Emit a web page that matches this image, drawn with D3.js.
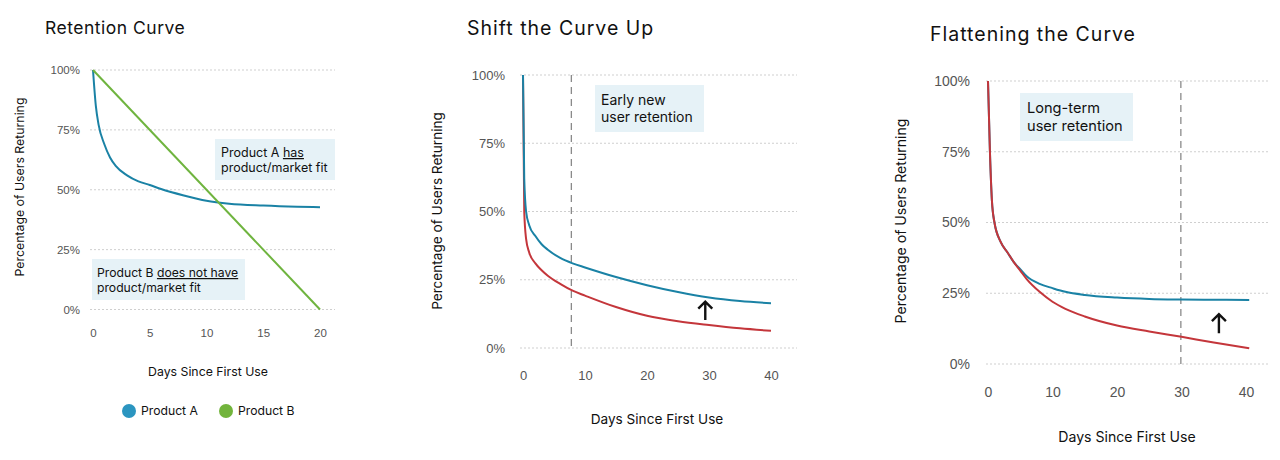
<!DOCTYPE html>
<html>
<head>
<meta charset="utf-8">
<script src="https://cdn.jsdelivr.net/npm/d3@7"></script>
<style>
  body { margin: 0; background: #fff; }
  svg { font-family: Inter, Lato, sans-serif; font-variant-ligatures: none; }
  .tick text { fill: #555; }
</style>
</head>
<body>
<svg id="chart" width="1280" height="460"></svg>
<script>
// ---- data ----
var yTicks = [0, 25, 50, 75, 100];

// panel 1: retention curve
var p1Ticks = [0, 5, 10, 15, 20];
var p1DaysA = [0, 0.25, 0.5, 1, 1.5, 2, 3, 4, 5, 6, 8, 10, 12, 15, 18, 20];
var p1ProductA = [100, 85, 77, 69, 63.5, 60, 56, 53.5, 52, 50.3, 47.6, 45.4, 44.2, 43.4, 42.9, 42.7];
var p1DaysB = [0, 20];
var p1ProductB = [100, 0];

// panel 2: shift the curve up
var p2Ticks = [0, 10, 20, 30, 40];
var p2Days = [0, 0.2, 0.5, 1, 2, 3, 4, 6, 8, 10, 15, 20, 25, 30, 35, 40];
var p2Upper = [100, 62, 50, 45, 41, 38, 36, 33, 31, 29.5, 26, 23, 20.5, 18.5, 17.2, 16.4];
var p2Lower = [100, 50, 40, 35, 31, 28.5, 26.5, 23.5, 21, 19.2, 15, 11.8, 9.8, 8.4, 7.2, 6.3];

// panel 3: flattening the curve
var p3Days = [0, 0.3, 0.6, 1, 2, 3, 4, 5, 6, 8, 10, 12, 15, 20, 25, 30, 35, 40.5];
var p3Upper = [100, 75, 58, 50, 43, 39.5, 36, 33.5, 31, 28.3, 26.8, 25.5, 24.4, 23.5, 23, 22.8, 22.7, 22.6];
var p3Lower = [100, 75, 58, 50, 43, 39.5, 36, 33, 30, 25.5, 22, 19.5, 16.8, 13.6, 11.5, 9.6, 7.6, 5.6];
var p3Ticks = [0, 10, 20, 30, 40];

var blue = "#1a82a5", green = "#6fb43f", red = "#c4363b";

var svg = d3.select("#chart");

function zip(xs, ys) {
    return xs.map(function(d, i) { return [d, ys[i]]; });
}

function drawPanel(cfg) {
    var x = d3.scaleLinear().domain(cfg.xDomain).range(cfg.xRange);
    var y = d3.scaleLinear().domain([0, 100]).range(cfg.yRange);
    var g = svg.append("g");

    // title
    g.append("text")
        .attr("x", cfg.titleX).attr("y", cfg.titleY)
        .style("font-size", cfg.titleSize + "px")
        .style("letter-spacing", cfg.titleSpacing + "px")
        .attr("fill", "#111")
        .text(cfg.title);

    // gridlines
    g.selectAll(".grid").data(yTicks).enter().append("line")
        .attr("x1", cfg.gridX[0]).attr("x2", cfg.gridX[1])
        .attr("y1", function(d) { return y(d); })
        .attr("y2", function(d) { return y(d); })
        .attr("stroke", "#cfcfcf")
        .attr("stroke-dasharray", "2,2");

    // y axis labels
    var yAxis = g.append("g")
        .attr("transform", "translate(" + cfg.yLabelX + ",0)")
        .call(d3.axisLeft(y).tickValues(yTicks).tickSize(0).tickFormat(function(d) { return d + "%"; }));
    yAxis.select(".domain").remove();
    yAxis.selectAll("text").style("font-size", cfg.tickSize + "px").attr("x", 0);

    // x axis labels
    var xAxis = g.append("g")
        .attr("transform", "translate(0," + cfg.xLabelY + ")")
        .call(d3.axisBottom(x).tickValues(cfg.xTicks).tickSize(0));
    xAxis.select(".domain").remove();
    xAxis.selectAll("text").style("font-size", cfg.tickSize + "px").attr("y", 0).attr("dy", "0.35em");

    // axis titles
    g.append("text")
        .attr("transform", "translate(" + cfg.yTitleX + "," + cfg.yTitleY + ") rotate(-90)")
        .attr("text-anchor", "middle")
        .style("font-size", cfg.axisTitleSize + "px")
        .attr("fill", "#111")
        .text("Percentage of Users Returning");
    g.append("text")
        .attr("x", cfg.xTitleX).attr("y", cfg.xTitleY)
        .attr("text-anchor", "middle")
        .style("font-size", cfg.axisTitleSize + "px")
        .attr("fill", "#111")
        .text("Days Since First Use");

    // dashed marker
    if (cfg.marker != null) {
        g.append("line")
            .attr("x1", x(cfg.marker)).attr("x2", x(cfg.marker))
            .attr("y1", y(100)).attr("y2", y(0))
            .attr("stroke", "#8a8a8a")
            .attr("stroke-width", 1.3)
            .attr("stroke-dasharray", "7,5");
    }

    // annotations
    cfg.notes.forEach(function(n) {
        g.append("rect")
            .attr("x", n.x).attr("y", n.y).attr("width", n.w).attr("height", n.h)
            .attr("fill", "#e6f2f7");
        n.lines.forEach(function(line, i) {
            var t = g.append("text")
                .attr("x", n.x + n.pad).attr("y", n.y + n.first + i * n.lh)
                .style("font-size", n.size + "px")
                .attr("fill", "#111");
            line.forEach(function(part) {
                t.append("tspan")
                    .style("text-decoration", part.u ? "underline" : null)
                    .text(part.t);
            });
        });
    });

    // lines
    var line = d3.line()
        .x(function(d) { return x(d[0]); })
        .y(function(d) { return y(d[1]); })
        .curve(d3.curveMonotoneX);
    cfg.series.forEach(function(s) {
        g.append("path")
            .datum(s.data)
            .attr("fill", "none")
            .attr("stroke", s.color)
            .attr("stroke-width", 2)
            .attr("d", line);
    });

    // arrow
    if (cfg.arrow) {
        var ax = x(cfg.arrow.day), y0 = y(cfg.arrow.from), y1 = y(cfg.arrow.to);
        g.append("path")
            .attr("d", "M" + ax + "," + y0 + "V" + y1 + "M" + (ax - 7) + "," + (y1 + 7) + "L" + ax + "," + y1 + "L" + (ax + 7) + "," + (y1 + 7))
            .attr("fill", "none")
            .attr("stroke", "#111")
            .attr("stroke-width", 2.4);
    }
    return g;
}

// panel 1
var g1 = drawPanel({
    title: "Retention Curve", titleX: 45, titleY: 34, titleSize: 17.5, titleSpacing: 0.5,
    xDomain: [0, 20], xRange: [93, 320], yRange: [309.5, 70],
    gridX: [90, 335], yLabelX: 80, xLabelY: 333, xTicks: p1Ticks, tickSize: 11.5,
    yTitleX: 24, yTitleY: 187, xTitleX: 208, xTitleY: 376, axisTitleSize: 12.3,
    notes: [
        { x: 215, y: 139, w: 120, h: 41, pad: 6, first: 18, lh: 15, size: 12.5,
          lines: [[{t: "Product A "}, {t: "has", u: true}], [{t: "product/market fit"}]] },
        { x: 92, y: 259, w: 153, h: 41, pad: 5, first: 18, lh: 15, size: 12.2,
          lines: [[{t: "Product B "}, {t: "does not have", u: true}], [{t: "product/market fit"}]] }
    ],
    series: [
        { data: zip(p1DaysA, p1ProductA), color: blue },
        { data: zip(p1DaysB, p1ProductB), color: green }
    ]
});

// legend
var legendItems = [{ name: "Product A", color: "#2b95c0", x: 129 }, { name: "Product B", color: "#72b43c", x: 226 }];
var lg = g1.selectAll(".legend").data(legendItems).enter().append("g")
    .attr("transform", function(d) { return "translate(" + d.x + ",411)"; });
lg.append("circle").attr("r", 7).attr("fill", function(d) { return d.color; });
lg.append("text").attr("x", 12).attr("dy", "0.35em")
    .style("font-size", "12.2px").attr("fill", "#111")
    .text(function(d) { return d.name; });

// panel 2
drawPanel({
    title: "Shift the Curve Up", titleX: 467, titleY: 35, titleSize: 19.5, titleSpacing: 1,
    xDomain: [0, 40], xRange: [523, 771], yRange: [348, 75],
    gridX: [520, 797], yLabelX: 505, xLabelY: 375, xTicks: p2Ticks, tickSize: 13,
    yTitleX: 442, yTitleY: 211, xTitleX: 657, xTitleY: 424, axisTitleSize: 13.6,
    marker: 7.8,
    notes: [
        { x: 595, y: 85, w: 109, h: 47, pad: 6, first: 20, lh: 17, size: 14,
          lines: [[{t: "Early new"}], [{t: "user retention"}]] }
    ],
    series: [
        { data: zip(p2Days, p2Lower), color: red },
        { data: zip(p2Days, p2Upper), color: blue }
    ],
    arrow: { day: 29.4, from: 10.3, to: 17 }
});

// panel 3
drawPanel({
    title: "Flattening the Curve", titleX: 930, titleY: 41, titleSize: 19.5, titleSpacing: 1,
    xDomain: [0, 40], xRange: [988, 1246], yRange: [364, 81],
    gridX: [986, 1270], yLabelX: 970, xLabelY: 392, xTicks: p3Ticks, tickSize: 14,
    yTitleX: 906, yTitleY: 221, xTitleX: 1127, xTitleY: 442, axisTitleSize: 14.1,
    marker: 29.9,
    notes: [
        { x: 1020, y: 93, w: 113, h: 48, pad: 7, first: 20, lh: 18, size: 14.6,
          lines: [[{t: "Long-term"}], [{t: "user retention"}]] }
    ],
    series: [
        { data: zip(p3Days, p3Upper), color: blue },
        { data: zip(p3Days, p3Lower), color: red }
    ],
    arrow: { day: 35.8, from: 10.9, to: 17.6 }
});
</script>
</body>
</html>
